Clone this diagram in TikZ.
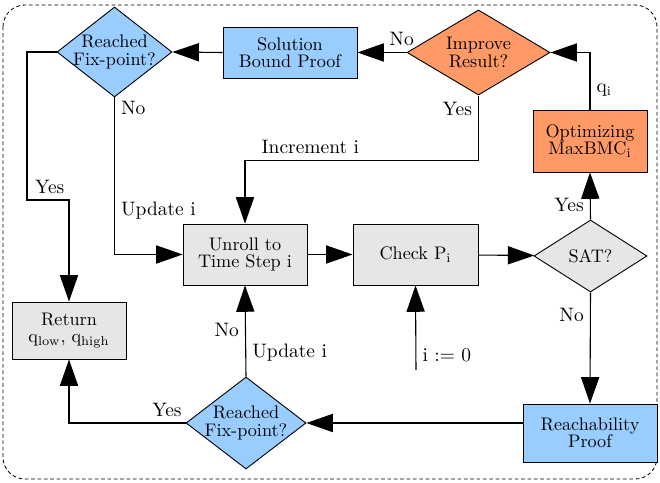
\documentclass[tikz,border=0pt]{standalone}
\usetikzlibrary{arrows.meta,shapes.geometric}
\definecolor{proofblue}{HTML}{99CCFF}
\definecolor{optorange}{HTML}{FF9966}
\definecolor{stepgray}{HTML}{E6E6E6}
\begin{document}
\begin{tikzpicture}[x=0.55pt,y=-0.55pt,
	box/.style={draw, line width=0.5pt, align=center, inner sep=0pt,
		font=\fontsize{10}{9.5}\selectfont},
	decision/.style={draw, diamond, line width=0.5pt, inner sep=0pt},
	dtext/.style={label={[align=center, font=\fontsize{10}{9.5}\selectfont]center:{#1}}},
	flow/.style={line width=0.6pt, -{Triangle[length=14.5pt,width=10pt]},
		every node/.style={font=\fontsize{10.7}{12}\selectfont}}]
		\useasboundingbox (0,0) rectangle (660,483);
		
		% frame
		\draw[line width=0.45pt, dash pattern=on 2pt off 1.5pt, rounded corners=12pt]
		(3,5) rectangle (657,479);
		
		% upper row
		\node[decision, fill=proofblue, minimum width=63.3pt, minimum height=49.5pt,
		dtext={Reached\\Fix-point?}] (fixtop) at (114.5,52) {};
		\node[box, fill=proofblue, minimum width=73.7pt, minimum height=28pt]
		(soln) at (290,52.5) {Solution\\Bound Proof};
		\node[decision, fill=optorange, minimum width=78.7pt, minimum height=46.8pt,
		dtext={Improve\\Result?}] (improve) at (478.5,52.5) {};
		\node[box, fill=optorange, minimum width=62.7pt, minimum height=34.1pt]
		(optim) at (590,141) {Optimizing\\MaxBMC$_\mathrm{i}$};
		
		% middle row
		\node[box, fill=stepgray, minimum width=68.2pt, minimum height=33.5pt]
		(unroll) at (245,254.5) {Unroll to\\Time Step i};
		\node[box, fill=stepgray, minimum width=68.8pt, minimum height=33.5pt]
		(check) at (415.5,254.5) {Check P$_\mathrm{i}$};
		\node[decision, fill=stepgray, minimum width=62.2pt, minimum height=39.6pt,
		dtext={SAT?}] (sat) at (590.5,256) {};
		
		% lower row
		\node[box, fill=stepgray, minimum width=62.7pt, minimum height=31.4pt]
		(ret) at (69,330.5) {Return\\q$_\mathrm{low}$, q$_\mathrm{high}$};
		\node[decision, fill=proofblue, minimum width=66pt, minimum height=50.6pt,
		dtext={Reached\\Fix-point?}] (fixbot) at (246,423) {};
		\node[box, fill=proofblue, minimum width=73.7pt, minimum height=31.9pt]
		(reach) at (590,433) {Reachability\\Proof};
		
		\coordinate (init) at (416,370);
		\coordinate (yesturn) at (27,200);
		
		% connectors
		\draw[flow] (init) -- (check.south) node[pos=0.18, right]{i := 0};
		\draw[flow] (unroll) -- (check);
		\draw[flow] (check) -- (sat);
		\draw[flow] (sat.north) -- (optim.south) node[pos=0.3, left]{Yes};
		\draw[flow] (optim.north) |- (improve.east) node[pos=0.17, right]{q$_\mathrm{i}$};
		\draw[flow] (improve.west) -- (soln.east) node[pos=0.1, above]{No};
		\draw[flow] (soln.west) -- (fixtop.east);
		\draw[flow] (improve.south) -- ++(0,65) node[pos=0.2, left]{Yes}
		-| (unroll.north) node[pos=0.36, above]{Increment i};
		\draw[flow] (fixtop.south) |- (unroll.west)
		node[pos=0.035, right]{No} node[pos=0.36, right]{Update i};
		\draw[flow] (fixtop.west) -| (yesturn) -| (ret.north) node[pos=0.27, above]{Yes};
		\draw[flow] (sat.south) -- (reach.north) node[pos=0.2, left]{No};
		\draw[flow] (fixbot.east -| reach.west) -- (fixbot.east);
		\draw[flow] (fixbot.north) -- (unroll.south)
		node[pos=0.51, left]{No} node[pos=0.26, right]{Update i};
		\draw[flow] (fixbot.west) -| (ret.south) node[pos=0.08, above]{Yes};
	\end{tikzpicture}
\end{document}
